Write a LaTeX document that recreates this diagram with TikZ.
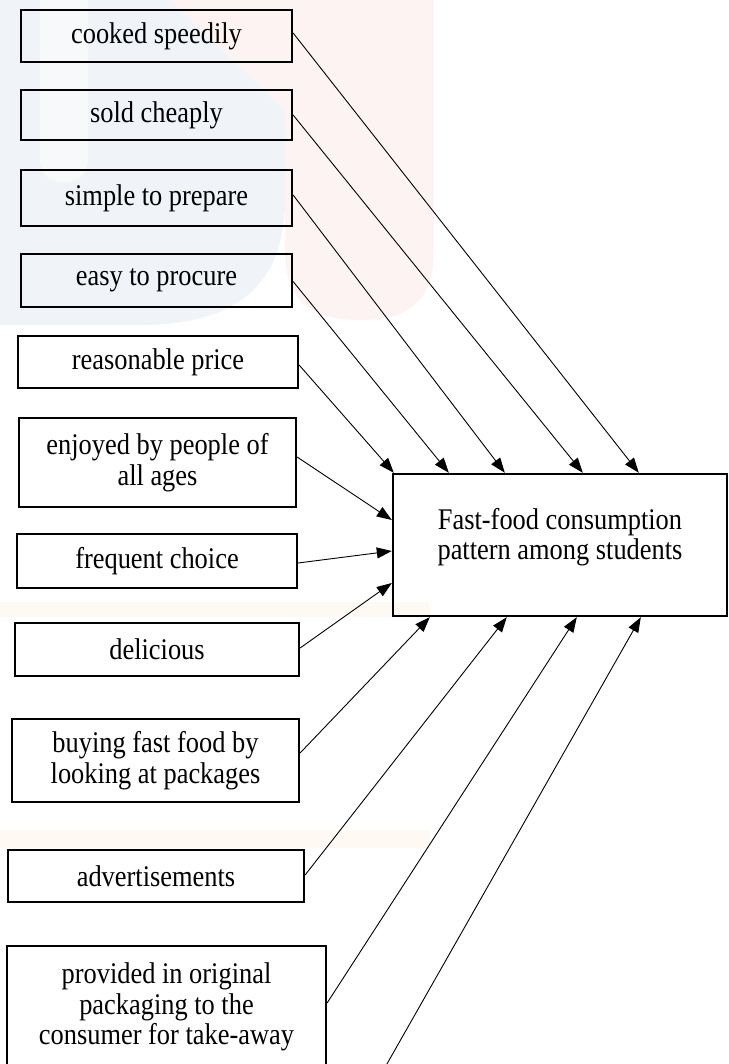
\documentclass[tikz,border=0pt]{standalone}
\usepackage{fontspec}
\setmainfont{Liberation Serif}
\newfontfamily\boxfont{Liberation Serif}[FakeStretch=0.88]
\usetikzlibrary{arrows.meta}
\definecolor{wmblue}{RGB}{240,244,248}
\definecolor{wmblueinner}{RGB}{247,249,251}
\definecolor{wmpink}{RGB}{254,243,243}
\definecolor{wmorange}{RGB}{255,249,244}
\begin{document}
\begin{tikzpicture}[x=1pt,y=-1pt,
  factor/.style={draw, line width=2.2pt, inner sep=0pt, align=center,
    font=\boxfont\fontsize{30}{30.5}\selectfont},
  target/.style={draw, line width=2.4pt, inner sep=0pt},
  lbl/.style={inner sep=0pt, align=center, font=\boxfont\fontsize{30}{30.5}\selectfont},
  conn/.style={line width=0.9pt, -{Triangle[length=15pt,width=11pt]}}]
\useasboundingbox (0,0) rectangle (728,1064);
\clip (0,0) rectangle (728,1064);

% faint watermark tints of the background
\fill[wmblue] (0,0) -- (170,0) -- (285,110) -- (285,200)
   .. controls (285,290) and (230,325) .. (140,325) -- (0,325) -- cycle;
\fill[wmblueinner] (40,0) -- (40,160) .. controls (40,190) and (88,190) .. (88,160) -- (88,0) -- cycle;
\fill[wmpink] (170,0) -- (434,0) -- (434,250) .. controls (434,300) and (410,320) .. (360,320)
   .. controls (310,320) and (285,300) .. (285,250) -- (285,110) -- cycle;
\fill[wmorange] (0,602) rectangle (430,617);
\fill[wmorange] (0,830) rectangle (430,848);

% factor boxes
\node[factor, minimum width=271pt, minimum height=52pt] (b1) at (156.5,36) {cooked speedily};
\node[factor, minimum width=271pt, minimum height=50pt] (b2) at (156.5,115) {sold cheaply};
\node[factor, minimum width=271pt, minimum height=56pt] (b3) at (156.5,198) {simple to prepare};
\node[factor, minimum width=271pt, minimum height=53pt] (b4) at (156.5,280.5) {easy to procure};
\node[factor, minimum width=280pt, minimum height=52pt] (b5) at (158,362) {reasonable price};
\node[factor, minimum width=277pt, minimum height=89pt] (b6) at (157.5,462.5) {enjoyed by people of\\all ages};
\node[factor, minimum width=280pt, minimum height=54pt] (b7) at (157,561) {frequent choice};
\node[factor, minimum width=284pt, minimum height=53pt] (b8) at (157,649.5) {delicious};
\node[factor, minimum width=287pt, minimum height=83pt] (b9) at (155.5,760.5) {buying fast food by\\looking at packages};
\node[factor, minimum width=296pt, minimum height=52pt] (b10) at (156,876) {advertisements};
\node[factor, minimum width=319pt, minimum height=122pt] (b11) at (166.5,1007) {provided in original\\packaging to the\\consumer for take-away};

% target box
\node[target, minimum width=334pt, minimum height=142pt] (T) at (560,545) {};
\node[lbl] (Tl) at (560,537) {Fast-food consumption\\pattern among students};

% free end of the last connector (its box lies below the page)
\coordinate (f12) at (383.5,1070);

% connectors from the top boxes to the top edge
\draw[conn] ([yshift=3pt]b1.east) -- ([xshift=247pt]T.north west);
\draw[conn] (b2.east) -- ([xshift=191pt]T.north west);
\draw[conn] ([yshift=3pt]b3.east) -- ([xshift=113pt]T.north west);
\draw[conn] ([yshift=-1pt]b4.east) -- ([xshift=57pt]T.north west);
\draw[conn] ([yshift=-3pt]b5.east) -- ([xshift=2pt]T.north west);

% connectors to the left edge
\draw[conn] ([yshift=5.5pt]b6.east) -- ([yshift=25pt]T.west);
\draw[conn] ([yshift=-2pt]b7.east) -- ([yshift=-6pt]T.west);
\draw[conn] ([yshift=1.5pt]b8.east) -- ([yshift=-38pt]T.west);

% connectors to the bottom edge
\draw[conn] ([yshift=7.5pt]b9.east) -- ([xshift=38pt]T.south west);
\draw[conn] ([yshift=1pt]b10.east) -- ([xshift=115pt]T.south west);
\draw[conn] ([yshift=4pt]b11.east) -- ([xshift=185pt]T.south west);
\draw[conn] (f12) -- ([xshift=249pt]T.south west);
\end{tikzpicture}
\end{document}
